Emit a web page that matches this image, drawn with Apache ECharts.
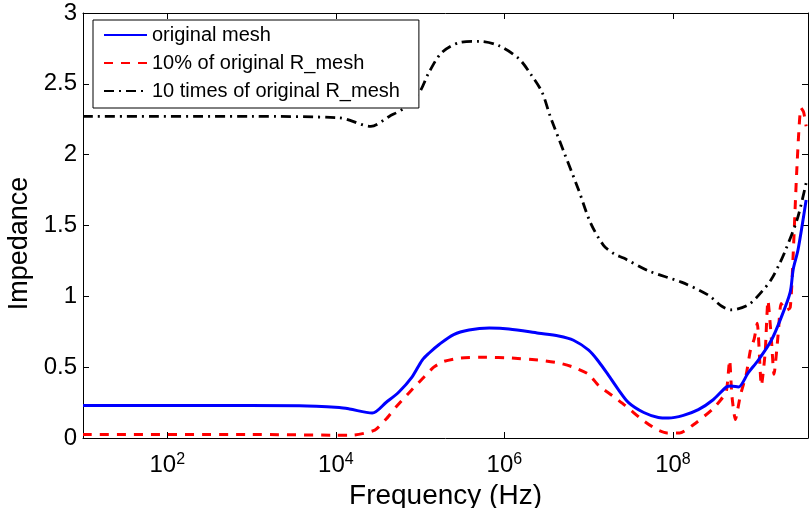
<!DOCTYPE html>
<html>
<head>
<meta charset="utf-8">
<script src="https://cdn.jsdelivr.net/npm/echarts@6/dist/echarts.min.js"></script>
<style>
  html, body { margin: 0; padding: 0; background: #fff; }
  #chart { width: 809px; height: 508px; }
</style>
</head>
<body>
<div id="chart"></div>
<script>
// frequency (Hz) / impedance pairs
var freqOrig = [10, 250, 3700, 1.1e4, 1.45e4, 2.7e4, 4.0e4, 5.6e4, 8.0e4, 1.06e5, 1.28e5, 1.68e5, 2.5e5, 3.8e5, 6.6e5,
  1.13e6, 2.56e6, 4.4e6, 6.6e6, 1e7, 1.31e7, 1.73e7, 2.26e7, 2.97e7, 4.5e7, 6.7e7, 8.85e7, 1.33e8, 2.0e8, 3.0e8,
  4.3e8, 4.9e8, 5.96e8, 7.8e8, 1.03e9, 1.47e9, 1.92e9, 2.46e9, 2.67e9, 3.05e9, 3.8e9];
var zOrig = [0.23, 0.23, 0.228, 0.215, 0.205, 0.176, 0.254, 0.325, 0.43, 0.55, 0.6, 0.66, 0.73, 0.762, 0.776,
  0.77, 0.74, 0.72, 0.69, 0.62, 0.54, 0.44, 0.34, 0.25, 0.18, 0.145, 0.141, 0.16, 0.2, 0.27,
  0.36, 0.367, 0.36, 0.46, 0.55, 0.69, 0.85, 1.03, 1.19, 1.33, 1.68];

var freqLow = [10, 1e3, 1e4, 1.6e4, 2.9e4, 3.9e4, 5.2e4, 7.4e4, 1.07e5, 1.45e5, 1.9e5, 3.0e5, 6.0e5, 1.2e6, 2.5e6,
  4.4e6, 6.6e6, 1e7, 1.31e7, 1.9e7, 2.7e7, 4.3e7, 6.4e7, 8.5e7, 1.2e8, 1.9e8, 2.9e8, 3.7e8, 4.3e8, 4.7e8,
  5.0e8, 5.5e8, 6.3e8, 7.4e8, 8.3e8, 9.2e8, 1.0e9, 1.12e9, 1.24e9, 1.34e9, 1.47e9, 1.58e9, 1.78e9, 1.92e9, 2.18e9,
  2.46e9, 2.67e9, 2.95e9, 3.3e9, 3.55e9, 3.8e9];
var zLow = [0.025, 0.025, 0.02, 0.02, 0.056, 0.13, 0.22, 0.32, 0.42, 0.5, 0.54, 0.565, 0.57, 0.565, 0.55,
  0.53, 0.5, 0.45, 0.37, 0.3, 0.23, 0.13, 0.06, 0.035, 0.035, 0.11, 0.2, 0.27, 0.33, 0.55,
  0.3, 0.13, 0.3, 0.45, 0.62, 0.7, 0.81, 0.37, 0.6, 0.97, 0.7, 0.45, 0.75, 0.95, 0.9,
  0.92, 1.3, 1.9, 2.33, 2.3, 2.2];

var freqHigh = [10, 1e3, 1.1e4, 2.6e4, 4.3e4, 6.5e4, 9.8e4, 1.27e5, 1.8e5, 2.9e5, 5.0e5, 8.5e5, 1.47e6, 2.1e6, 2.8e6,
  3.5e6, 5.0e6, 7.6e6, 1.05e7, 1.5e7, 2.0e7, 2.6e7, 5.1e7, 1.26e8, 2.6e8, 3.8e8, 4.9e8, 7.8e8, 1.12e9, 1.47e9,
  1.87e9, 2.18e9, 3.0e9, 3.8e9];
var zHigh = [2.27, 2.27, 2.26, 2.2, 2.27, 2.33, 2.44, 2.58, 2.72, 2.79, 2.80, 2.77, 2.68, 2.56, 2.44,
  2.27, 2.03, 1.75, 1.52, 1.36, 1.3, 1.27, 1.18, 1.10, 1.01, 0.93, 0.905, 0.94, 1.03, 1.12,
  1.24, 1.33, 1.55, 1.8];

var xTicks = [1e2, 1e4, 1e6, 1e8];

function pairs(xs, ys) {
  var out = [];
  for (var i = 0; i < xs.length; i++) out.push([xs[i], ys[i]]);
  return out;
}

var chart = echarts.init(document.getElementById('chart'));
var font = 'Liberation Sans, Arial, sans-serif';

var option = {
  animation: false,
  grid: { left: 83, right: 1, top: 13, bottom: 70, outerBoundsMode: 'none', containLabel: false },
  legend: {
    left: 93, top: 20, orient: 'vertical',
    borderColor: '#000', borderWidth: 1, backgroundColor: '#fff',
    padding: [5, 19, 7, 10],
    itemWidth: 43, itemHeight: 14, itemGap: 8,
    itemStyle: { opacity: 0 },
    textStyle: { fontFamily: font, fontSize: 20, color: '#000' },
    data: ['original mesh', '10% of original R_mesh', '10 times of original R_mesh']
  },
  xAxis: [{
    type: 'log', logBase: 10, min: 10, max: 4e9,
    name: 'Frequency (Hz)', nameLocation: 'middle', nameGap: 35,
    nameTextStyle: { fontFamily: font, fontSize: 28, color: '#000' },
    axisLine: { lineStyle: { color: '#000', width: 1 } },
    axisTick: { inside: true, length: 6, customValues: xTicks, lineStyle: { color: '#000' } },
    splitLine: { show: false },
    axisLabel: {
      customValues: xTicks, margin: 14, color: '#000',
      formatter: function (v) { return '{b|10}{s|' + Math.round(Math.log10(v)) + '}'; },
      rich: {
        b: { fontFamily: font, fontSize: 24, color: '#000' },
        s: { fontFamily: font, fontSize: 16, color: '#000', padding: [0, 0, 11, 0] }
      }
    }
  }, {
    type: 'log', logBase: 10, min: 10, max: 4e9, position: 'top',
    axisLine: { onZero: false, lineStyle: { color: '#000', width: 1 } },
    axisTick: { inside: true, length: 6, customValues: xTicks, lineStyle: { color: '#000' } },
    axisLabel: { show: false }, splitLine: { show: false }
  }],
  yAxis: [{
    type: 'value', min: 0, max: 3, interval: 0.5,
    name: 'Impedance', nameLocation: 'middle', nameGap: 40,
    nameTextStyle: { fontFamily: font, fontSize: 27, color: '#000', padding: [0, 36, 0, 0] },
    axisLine: { show: true, lineStyle: { color: '#000', width: 1 } },
    axisTick: { show: true, inside: true, length: 6, lineStyle: { color: '#000' } },
    splitLine: { show: false },
    axisLabel: { fontFamily: font, fontSize: 24, color: '#000', margin: 6 }
  }, {
    type: 'value', min: 0, max: 3, interval: 0.5, position: 'right',
    axisLine: { show: true, onZero: false, lineStyle: { color: '#000', width: 1 } },
    axisTick: { show: true, inside: true, length: 6, lineStyle: { color: '#000' } },
    axisLabel: { show: false }, splitLine: { show: false }
  }],
  series: [{
    name: 'original mesh', type: 'line', symbol: 'none', smooth: 0.3,
    color: '#0000ff', lineStyle: { color: '#0000ff', width: 3 },
    data: pairs(freqOrig, zOrig), z: 3
  }, {
    name: '10% of original R_mesh', type: 'line', symbol: 'none', smooth: 0.2,
    color: '#ff0000', lineStyle: { color: '#ff0000', width: 3, type: [9, 8] },
    data: pairs(freqLow, zLow), z: 2
  }, {
    name: '10 times of original R_mesh', type: 'line', symbol: 'none', smooth: 0.3,
    color: '#000000', lineStyle: { color: '#000000', width: 2.8, type: [10, 5, 2, 5] },
    data: pairs(freqHigh, zHigh), z: 2
  }]
};
chart.setOption(option);
</script>
</body>
</html>
